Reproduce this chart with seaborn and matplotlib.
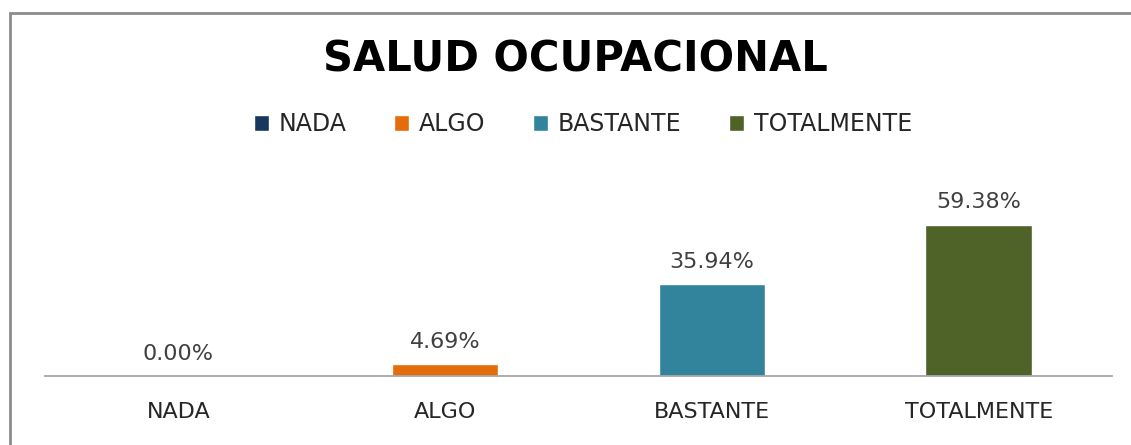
import matplotlib
matplotlib.use("Agg")
import pandas as pd
import seaborn as sns
import matplotlib.pyplot as plt
from matplotlib.patches import Rectangle

categories = ["NADA", "ALGO", "BASTANTE", "TOTALMENTE"]
values = [0.00, 4.69, 35.94, 59.38]
colors = ["#17375E", "#E46C0A", "#31849B", "#4F6228"]

data = pd.DataFrame({"categoria": categories, "porcentaje": values})

sns.set_style("white")
plt.rcParams["font.family"] = ["DejaVu Sans"]

fig = plt.figure(figsize=(11.31, 4.45), dpi=100)
ax = fig.add_axes([0.0398, 0.155, 0.9434, 0.401])

sns.barplot(
    data=data,
    x="categoria",
    y="porcentaje",
    hue="categoria",
    palette=colors,
    saturation=1,
    width=0.4,
    dodge=False,
    legend=True,
    ax=ax
)

for container in ax.containers:
    labels = ax.bar_label(container, fmt="%.2f%%", padding=9,
                          fontsize=16, color="#404040")
    for t in labels:
        t.set_clip_on(False)

ax.set_xlim(-0.5, 3.5)
ax.set_ylim(0, 70)
ax.set_xlabel("")
ax.set_ylabel("")
ax.set_yticks([])
ax.tick_params(axis="x", length=0, pad=19, labelsize=16, labelcolor="#262626")
for side in ["left", "right", "top"]:
    ax.spines[side].set_visible(False)
ax.spines["bottom"].set_color("#A6A6A6")
ax.spines["bottom"].set_linewidth(1.3)

# leyenda centrada bajo el titulo
handles, labs = ax.get_legend_handles_labels()
ax.legend(handles, labs, ncol=4, frameon=False, fontsize=17,
          loc="center", bbox_to_anchor=(583 / 1131, 1 - 124 / 445),
          bbox_transform=fig.transFigure,
          handlelength=0.65, handleheight=0.65, handletextpad=0.42,
          columnspacing=2.0, labelcolor="#262626")

fig.text(575 / 1131, 1 - 60 / 445, "SALUD OCUPACIONAL", ha="center",
         va="center", fontsize=30, fontweight="bold", color="black")

fig.patches.append(Rectangle((10 / 1131, -0.1), 1.2, 1 - 13 / 445 + 0.1,
                             transform=fig.transFigure, fill=False,
                             edgecolor="#8C8C8C", linewidth=2))

fig.savefig("out.png", dpi=100)
